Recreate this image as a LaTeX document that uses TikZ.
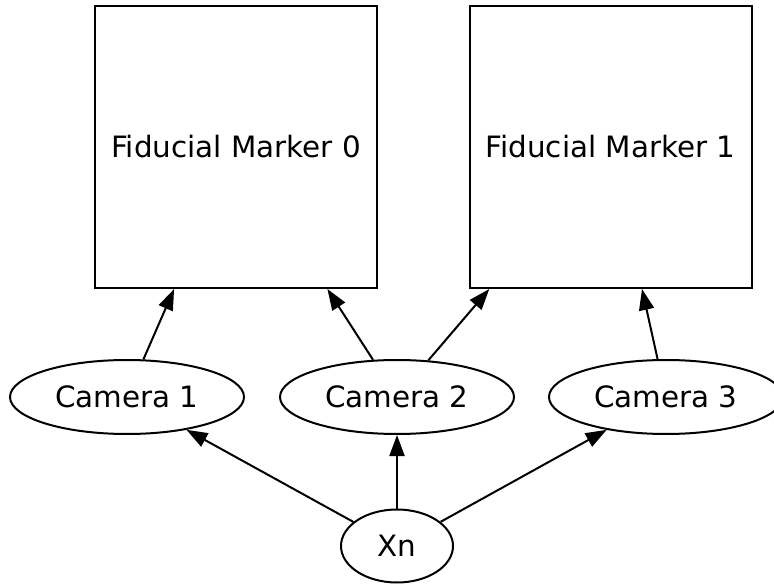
\documentclass[tikz,border=0pt]{standalone}
\usepackage{fontspec}
\setmainfont{DejaVu Sans}
\usetikzlibrary{arrows.meta,shapes.geometric}
\begin{document}
\begin{tikzpicture}[x=1pt,y=-1pt,
  every node/.style={font=\fontsize{29.4}{35}\selectfont, line width=2pt, inner sep=0pt},
  marker/.style={draw, rectangle, minimum width=282pt, minimum height=282pt},
  cam/.style={draw, ellipse, minimum width=234pt, minimum height=74pt},
  var/.style={draw, ellipse, minimum width=112pt, minimum height=73pt},
  link/.style={line width=2pt, -{Triangle[length=21pt,width=15pt]}}]
\useasboundingbox (0,0) rectangle (774,585);
\clip (0,0) rectangle (774,585);
\node[marker] (m0) at (236,147) {Fiducial Marker 0};
\node[marker] (m1) at (610.5,147) {Fiducial Marker 1};
\node[cam] (c1) at (127,397) {Camera 1};
\node[cam] (c2) at (397,397) {Camera 2};
\node[cam] (c3) at (666,397) {Camera 3};
\node[var] (xn) at (397,546) {Xn};
\draw[link] (c1) -- (m0);
\draw[link] (c2) -- (m0);
\draw[link] (c2) -- (m1);
\draw[link] (c3) -- (m1);
\draw[link] (xn) -- (c1);
\draw[link] (xn) -- (c2);
\draw[link] (xn) -- (c3);
\end{tikzpicture}
\end{document}
